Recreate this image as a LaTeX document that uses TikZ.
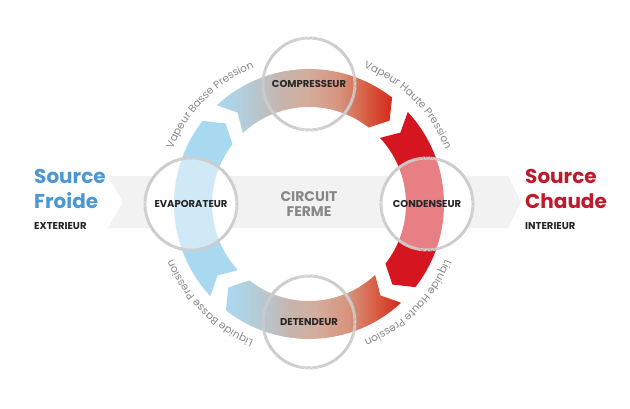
\documentclass[tikz,border=0pt]{standalone}
\usepackage{fontspec}
\setmainfont{Poppins}
\usetikzlibrary{positioning,decorations.text}
\definecolor{coldblue}{HTML}{4C97CF}
\definecolor{hotred}{HTML}{BE1A2C}
\definecolor{bandblue}{HTML}{A9D9F0}
\definecolor{bandred}{HTML}{D51620}
\definecolor{curvegray}{HTML}{888888}
\definecolor{backgray}{HTML}{F2F2F2}
%% blue to red along the top and bottom parts
\pgfdeclarehorizontalshading{warmup}{100bp}{color(0bp)=(bandblue); color(25bp)=(bandblue);
  color(34bp)=(rgb,255:red,180;green,203;blue,214); color(43bp)=(rgb,255:red,198;green,181;blue,174);
  color(51bp)=(rgb,255:red,212;green,173;blue,156); color(60bp)=(rgb,255:red,215;green,147;blue,125);
  color(68bp)=(rgb,255:red,215;green,91;blue,64); color(75bp)=(rgb,255:red,213;green,40;blue,28);
  color(100bp)=(rgb,255:red,213;green,40;blue,28)}
\tikzset{
  station/.style={circle, minimum size=92pt, inner sep=0pt, draw=black!20, line width=3pt,
    dash pattern=on .35pt off .35pt, font=\fontsize{10}{12}\selectfont\bfseries, text=black!85},
  lit/.style={fill=white, fill opacity=.45, text opacity=1},
  srcname/.style={anchor=north west, inner sep=0pt, align=left, font=\fontsize{20}{25}\selectfont\bfseries},
  srcsub/.style={inner sep=0pt, font=\fontsize{10}{12}\selectfont\bfseries, text=black!85},
  pathlabel/.style={decorate, decoration={text along path, text color=curvegray, text align=center,
    text={|\fontsize{10.5}{12}\selectfont|#1}}}
}
\begin{document}
\begin{tikzpicture}[x=1pt, y=1pt, line join=round]
  \useasboundingbox (0,0) rectangle (630,408);
  %% ring geometry
  \def\rin{97}
  \def\rout{135}
  \def\rmid{116}
  \coordinate (ctr) at (309,204);
  %% one quarter of the ring: notch at #1, tip at #2, fill #3
  \def\ringpart#1#2#3{%
    \path[#3] ([shift={(#1-2:\rout)}]ctr) arc[start angle=#1-2, end angle=#2+7, radius=\rout]
      -- ([shift={(#2+1:\rmid)}]ctr) -- ([shift={(#2+7:\rin)}]ctr)
      arc[start angle=#2+7, end angle=#1-2, radius=\rin]
      -- ([shift={(#1-7:\rmid)}]ctr) -- cycle;}
  %% grey arrow behind
  \fill[backgray] (108,232) -- (508,232) -- (521,206) -- (508,180) -- (108,180) -- (123,206) -- cycle;
  \fill[white] ([shift={(180:118)}]ctr) circle[radius=46] ([shift={(0:118)}]ctr) circle[radius=46];
  %% the four parts
  \ringpart{225}{135}{fill=bandblue}
  \ringpart{135}{45}{shading=warmup}
  \ringpart{45}{-45}{fill=bandred}
  \ringpart{-45}{-135}{shading=warmup}
  %% stations
  \node[station, lit] (evap) at ([shift={(180:118)}]ctr) {EVAPORATEUR};
  \node[station] (comp) at ([shift={(90:120)}]ctr) {COMPRESSEUR};
  \node[station, lit] (cond) at ([shift={(0:118)}]ctr) {CONDENSEUR};
  \node[station] (detd) at ([shift={(-90:118)}]ctr) {DETENDEUR};
  \node[font=\fontsize{14}{15.5}\selectfont\bfseries, text=black!47, align=center] (circ) at (309,204) {CIRCUIT\\FERME};
  %% sources
  \node[srcname, text=coldblue] (cold) at (34,239) {Source\\Froide};
  \node[srcsub, below right=13pt and 0pt of cold.south west] (coldsub) {EXTERIEUR};
  \node[srcname, text=hotred] (hot) at (525,239) {Source\\Chaude};
  \node[srcsub, below right=13pt and 0pt of hot.south west] (hotsub) {INTERIEUR};
  %% labels round the ring
  \path[pathlabel={Vapeur Basse Pression}] ([shift={(175:147)}]ctr) arc[start angle=175, end angle=95, radius=147];
  \path[pathlabel={Vapeur Haute Pression}] ([shift={(85:147)}]ctr) arc[start angle=85, end angle=5, radius=147];
  \path[pathlabel={Liquide Haute Pression}] ([shift={(-5:147)}]ctr) arc[start angle=-5, end angle=-85, radius=147];
  \path[pathlabel={Liquide Basse Pression}] ([shift={(-95:147)}]ctr) arc[start angle=-95, end angle=-175, radius=147];
\end{tikzpicture}
\end{document}
